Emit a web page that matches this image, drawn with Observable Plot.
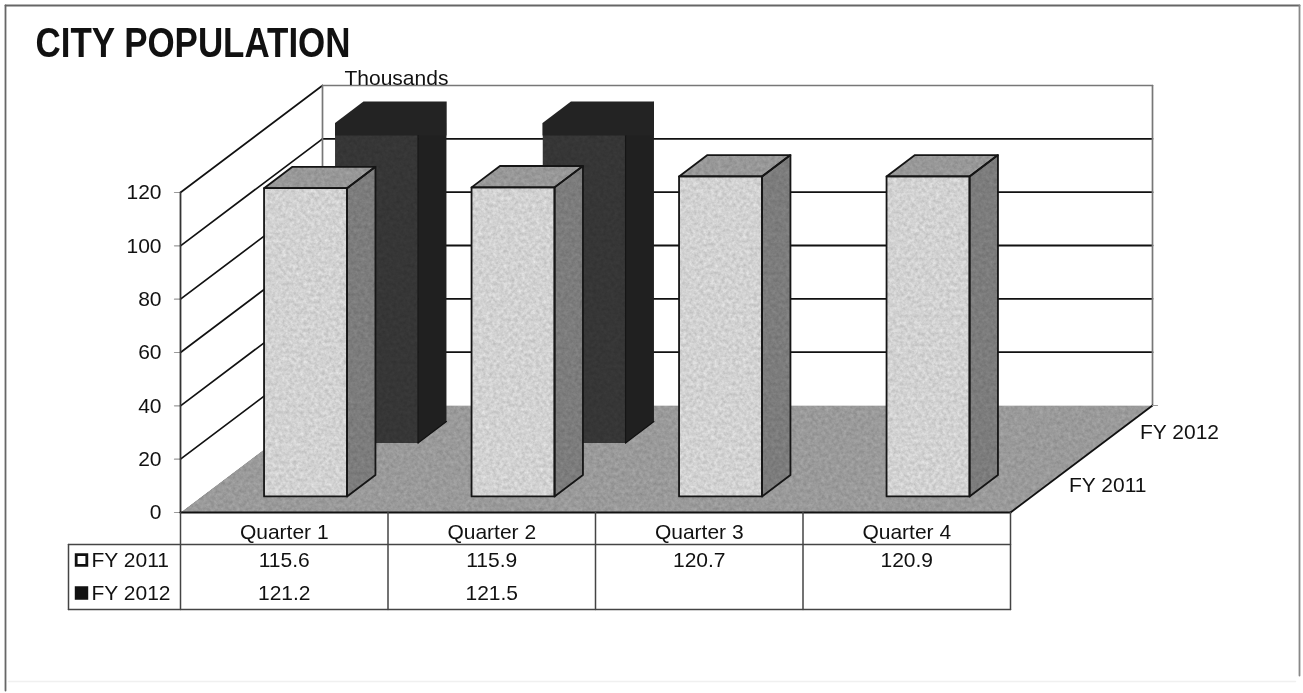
<!DOCTYPE html>
<html>
<head>
<meta charset="utf-8">
<script src="https://cdn.jsdelivr.net/npm/d3@7"></script>
<script src="https://cdn.jsdelivr.net/npm/@observablehq/plot@0.6"></script>
<style>
html,body{margin:0;padding:0;background:#fff}
#chart{width:1303px;height:693px;overflow:hidden}
#chart svg{display:block;filter:blur(0.45px)}
</style>
</head>
<body>
<svg width="0" height="0" style="position:absolute">
  <filter id="grain" x="0" y="0" width="100%" height="100%" color-interpolation-filters="sRGB">
    <feTurbulence type="fractalNoise" baseFrequency="0.28" numOctaves="3" seed="7" result="n"/>
    <feColorMatrix in="n" type="matrix" values="1 0 0 0 0 1 0 0 0 0 1 0 0 0 0 0 0 0 0 1" result="g"/>
    <feComposite in="SourceGraphic" in2="g" operator="arithmetic" k1="0.26" k2="0.87" k3="0" k4="0" result="m"/>
    <feComposite in="m" in2="SourceGraphic" operator="in"/>
  </filter>
</svg>
<div id="chart"></div>
<script>
const titleText = "CITY POPULATION";
const unitLabel = "Thousands";
const quarters = ["Quarter 1", "Quarter 2", "Quarter 3", "Quarter 4"];
const seriesNames = ["FY 2011", "FY 2012"];
const fy2011 = [115.6, 115.9, 120.7, 120.9];
const fy2012 = [121.2, 121.5, null, null];
const ticks = [0, 20, 40, 60, 80, 100, 120];
const axisMax = 120;                         // bars are cut off at the axis maximum

// Oblique projection: x in quarter units, y in value units, z in 0..1 of depth.
const W = 1303, H = 693;
const qw = 207.5, vu = 320 / 120;            // pixels per quarter / per thousand
const zx = 142 / qw, zy = 107 / vu;          // depth shift in data units
const P = (q, v, z = 0) => ({x: q + z * zx, y: v + z * zy});
const Yp = (px) => (512 - px) / vu;          // page row to value units
const Xp = (px) => (px - 180) / qw;          // page column to quarter units

const zBands = [[0.15, 0.35], [0.65, 0.85]];
const barX = [0.3, 0.7];
const fmt = d => d == null ? "" : d.toFixed(1);

const poly = (pts, o) => Plot.line([...pts, pts[0]], {x: "x", y: "y", curve: "linear", ...o});
const seg = (a, b, o) => Plot.line([a, b], {x: "x", y: "y", stroke: "#111", strokeWidth: 1.8, ...o});

const marks = [];

// frame
marks.push(seg({x: Xp(5), y: Yp(5)}, {x: Xp(1299), y: Yp(5)}, {stroke: "#666", strokeWidth: 1.8}));
marks.push(seg({x: Xp(5), y: Yp(5)}, {x: Xp(5), y: Yp(690)}, {stroke: "#666", strokeWidth: 1.8}));
marks.push(seg({x: Xp(1299), y: Yp(5)}, {x: Xp(1299), y: Yp(675)}, {stroke: "#888", strokeWidth: 1.8}));
marks.push(seg({x: Xp(8), y: Yp(681)}, {x: Xp(1295), y: Yp(681)}, {stroke: "#f0f0f0", strokeWidth: 1.5}));

// walls and gridlines
for (const t of ticks) {
  if (t > 0) {
    marks.push(seg(P(0, t, 0), P(0, t, 1), {strokeWidth: 1.7}));
    marks.push(seg(P(0, t, 1), P(4, t, 1), t === 120 ? {stroke: "#777", strokeWidth: 1.7} : {strokeWidth: 1.8}));
  }
  marks.push(seg({x: Xp(174), y: t}, P(0, t, 0), {stroke: "#999", strokeWidth: 1.2}));
}
marks.push(seg(P(0, 0, 1), P(0, 120, 1), {stroke: "#777", strokeWidth: 1.7}));
marks.push(seg(P(4, 0, 1), P(4, 120, 1), {stroke: "#777", strokeWidth: 1.7}));

// floor
marks.push(poly([P(0, 0, 0), P(4, 0, 0), P(4, 0, 1), P(0, 0, 1)], {fill: "#9a9a9a", imageFilter: "url(#grain)"}));
marks.push(seg(P(0, 0, 0), P(0, 120, 0), {stroke: "#333", strokeWidth: 1.8}));
marks.push(seg(P(0, 0, 0), P(4, 0, 0), {strokeWidth: 2}));
marks.push(seg(P(4, 0, 0), P(4, 0, 1), {strokeWidth: 1.8}));
marks.push(seg(P(4, 0, 1), {x: Xp(1157), y: P(4, 0, 1).y}, {stroke: "#999", strokeWidth: 1.2}));

// FY 2012 bars (rear row); the upper part of each reads solid black in the reference
const rearCapBase = 115.3;
fy2012.forEach((v, i) => {
  if (v == null) return;
  const [z0, z1] = zBands[1];
  const a = i + barX[0], b = i + barX[1];
  const top = Math.min(v, axisMax);
  marks.push(poly([P(b, 0, z0), P(b, 0, z1), P(b, top, z1), P(b, top, z0)], {fill: "#202020"}));
  marks.push(poly([P(a, 0, z0), P(b, 0, z0), P(b, top, z0), P(a, top, z0)], {fill: "#363636", imageFilter: "url(#grain)"}));
  const fr = P(b, rearCapBase, z0), bk = P(b, 0, z1);
  marks.push(poly([P(a, rearCapBase, z0), {x: bk.x, y: fr.y}, P(b, top, z1), P(a, top, z1), P(a, top, z0)], {fill: "#232323"}));
  marks.push(seg(P(b, 0, z0), P(b, rearCapBase, z0), {stroke: "#151515", strokeWidth: 1.2}));
  marks.push(seg(P(b, 0, z0), P(b, 0, z1), {stroke: "#111", strokeWidth: 1.2}));
});

// FY 2011 bars (front row)
fy2011.forEach((value, i) => {
  const v = Math.min(value, axisMax);
  const [z0, z1] = zBands[0];
  const a = i + barX[0], b = i + barX[1];
  const side = [P(b, 0, z0), P(b, 0, z1), P(b, v, z1), P(b, v, z0)];
  const top = [P(a, v, z0), P(b, v, z0), P(b, v, z1), P(a, v, z1)];
  const front = [P(a, 0, z0), P(b, 0, z0), P(b, v, z0), P(a, v, z0)];
  marks.push(poly(side, {fill: "#7c7c7c", imageFilter: "url(#grain)"}));
  marks.push(poly(top, {fill: "#989898", imageFilter: "url(#grain)"}));
  marks.push(poly(front, {fill: "#d2d2d2", imageFilter: "url(#grain)"}));
  for (const f of [side, top, front]) marks.push(poly(f, {stroke: "#151515", strokeWidth: 1.8, fill: "none"}));
});

// data table
const colX = [0, 1, 2, 3, 4];
const rowTop = Yp(544), rowBottom = Yp(609), legendLeft = Xp(68);
for (const c of colX) marks.push(seg({x: c, y: 0}, {x: c, y: rowBottom}, {stroke: "#444", strokeWidth: 1.5}));
marks.push(seg({x: legendLeft, y: rowTop}, {x: 4, y: rowTop}, {stroke: "#444", strokeWidth: 1.5}));
marks.push(seg({x: legendLeft, y: rowBottom}, {x: 4, y: rowBottom}, {stroke: "#444", strokeWidth: 1.5}));
marks.push(seg({x: legendLeft, y: rowTop}, {x: legendLeft, y: rowBottom}, {stroke: "#444", strokeWidth: 1.5}));

const font = {fontFamily: "Liberation Sans, Arial, sans-serif", fontSize: 21, fill: "#111", lineAnchor: "middle"};
const rows = [Yp(559.5), Yp(592.5)];
marks.push(Plot.text(quarters, {x: (d, i) => i + 0.5, y: Yp(532), text: d => d, ...font}));
marks.push(Plot.text(fy2011, {x: (d, i) => i + 0.5, y: rows[0], text: fmt, ...font}));
marks.push(Plot.text(fy2012, {x: (d, i) => i + 0.5, y: rows[1], text: fmt, ...font}));
marks.push(Plot.text(seriesNames, {x: Xp(91), y: (d, i) => rows[i], text: d => d, textAnchor: "start", ...font}));
marks.push(Plot.dot(seriesNames, {x: Xp(81), y: (d, i) => rows[i], symbol: "square", r: 6,
  fill: (d, i) => i ? "#111" : "#fff", stroke: "#111", strokeWidth: 2.8}));

// axis labels
marks.push(Plot.text(ticks, {x: Xp(161), y: d => d, text: d => String(d), textAnchor: "end", ...font}));
marks.push(Plot.text(seriesNames, {x: (d, i) => P(4, 0, i ? 0.75 : 0.25).x + 23 / qw, y: (d, i) => P(4, 0, i ? 0.75 : 0.25).y, text: d => d, textAnchor: "start", ...font}));
marks.push(Plot.text([unitLabel], {x: Xp(344), y: Yp(78), text: d => d, textAnchor: "start", ...font}));
marks.push(Plot.text([titleText], {x: Xp(35), y: Yp(43), text: d => d, textAnchor: "start", lineAnchor: "middle",
  fontFamily: "Liberation Sans, Arial, sans-serif", fontWeight: "bold", fontSize: 42, fill: "#111", className: "chart-title"}));

const chart = Plot.plot({
  width: W, height: H, margin: 0,
  style: {background: "#fff", overflow: "hidden"},
  x: {domain: [Xp(0), Xp(W)], range: [0, W], axis: null},
  y: {domain: [Yp(H), Yp(0)], range: [H, 0], axis: null},
  marks
});
// the reference's title is set in a condensed cut
d3.select(chart).selectAll(".chart-title text").attr("textLength", 315).attr("lengthAdjust", "spacingAndGlyphs");
document.getElementById("chart").appendChild(chart);
</script>
</body>
</html>
